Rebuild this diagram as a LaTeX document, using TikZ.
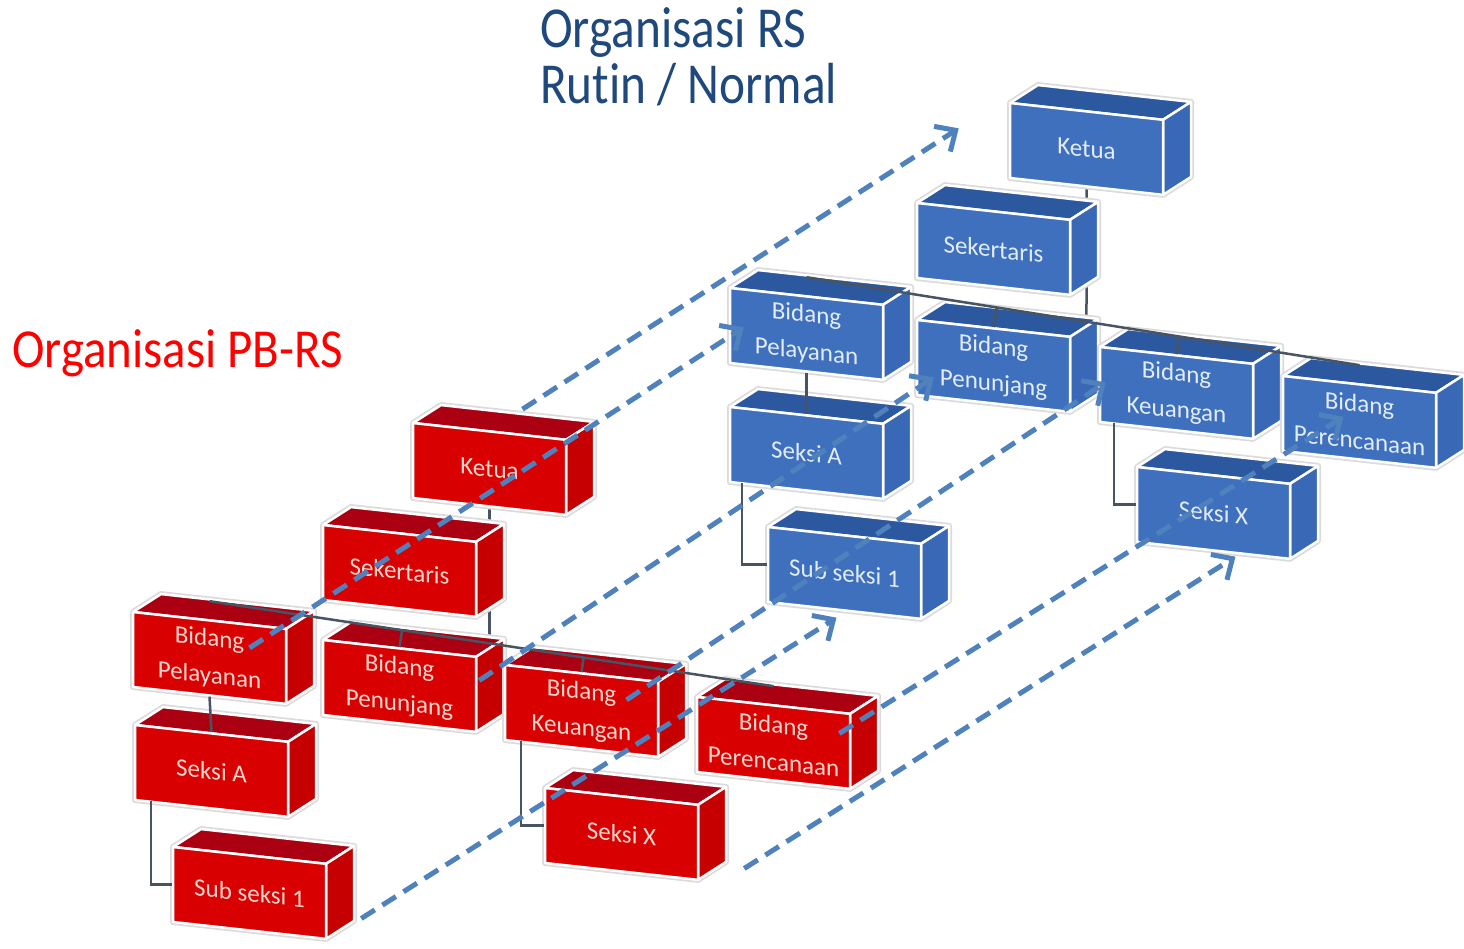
\documentclass[tikz,border=0pt]{standalone}
\usepackage{fontspec}
\setmainfont{Carlito}
\newfontfamily\titlefont{Carlito}[FakeStretch=0.85, Ligatures=NoCommon]
\newfontfamily\labelfont{Carlito}[FakeStretch=0.89, Ligatures=NoCommon]
\usepackage{xcolor}
\usetikzlibrary{arrows.meta, calc, backgrounds}

\definecolor{rsblue}{RGB}{31,73,125}
\definecolor{linkblue}{RGB}{79,129,189}
\definecolor{pbred}{RGB}{216,0,0}
\definecolor{pbredtop}{RGB}{170,0,18}
\definecolor{pbredside}{RGB}{198,0,0}
\definecolor{pbtext}{RGB}{255,214,205}
\definecolor{rsbox}{RGB}{62,112,190}
\definecolor{rsboxtop}{RGB}{44,88,160}
\definecolor{rsboxside}{RGB}{56,104,182}
\definecolor{rstext}{RGB}{226,236,250}
\definecolor{orggray}{RGB}{72,84,98}

% 3D box: style prefix, name, top-left of front face, text
\newcommand{\orgbox}[4]{%
  \begin{scope}[shift={#3}, yslant=-0.11]
    \draw[halo] (0,0) -- (0,75) -- (153,75) -- (181,54) -- (181,-21) -- (28,-21) -- cycle;
    \filldraw[#1top] (0,0) -- (153,0) -- (181,-21) -- (28,-21) -- cycle;
    \filldraw[#1side] (153,0) -- (181,-21) -- (181,54) -- (153,75) -- cycle;
    \node[#1front] (#2) at (76.5,37.5) {#4};
  \end{scope}}

\begin{document}
\begin{tikzpicture}[x=1pt, y=-1pt,
    halo/.style={draw=black!14, line width=6pt, line join=round},
    face/.style={draw=white, line width=2.5pt, line join=round},
    pbtop/.style={face, fill=pbredtop},
    pbside/.style={face, fill=pbredside},
    pbfront/.style={face, fill=pbred, text=pbtext, minimum width=153pt, minimum height=75pt,
        inner sep=0pt, transform shape, align=center, font=\fontsize{25}{37}\selectfont},
    rstop/.style={face, fill=rsboxtop},
    rsside/.style={face, fill=rsboxside},
    rsfront/.style={face, fill=rsbox, text=rstext, minimum width=153pt, minimum height=75pt,
        inner sep=0pt, transform shape, align=center, font=\fontsize{25}{37}\selectfont},
    orgline/.style={draw=orggray, line width=2.5pt},
    link/.style={draw=linkblue, line width=5pt, dash pattern=on 16pt off 9pt,
        -{Straight Barb[length=16pt, width=30pt]}}
]
    \useasboundingbox (0,0) rectangle (1464,948);

    % Organisasi PB-RS
    \orgbox{pb}{rket}{(413,423)}{Ketua}
    \orgbox{pb}{rsek}{(323,525)}{Sekertaris}
    \orgbox{pb}{rpel}{(133,612)}{Bidang\\Pelayanan}
    \orgbox{pb}{rpen}{(323,640)}{Bidang\\Penunjang}
    \orgbox{pb}{rkeu}{(505,665)}{Bidang\\Keuangan}
    \orgbox{pb}{rper}{(697,697)}{Bidang\\Perencanaan}
    \orgbox{pb}{rsa}{(135,725)}{Seksi A}
    \orgbox{pb}{rss}{(173,847)}{Sub seksi 1}
    \orgbox{pb}{rsx}{(545,788)}{Seksi X}

    % Organisasi RS rutin
    \orgbox{rs}{bket}{(1010,103)}{Ketua}
    \orgbox{rs}{bsek}{(917,203)}{Sekertaris}
    \orgbox{rs}{bpel}{(730,288)}{Bidang\\Pelayanan}
    \orgbox{rs}{bpen}{(917,320)}{Bidang\\Penunjang}
    \orgbox{rs}{bkeu}{(1100,347)}{Bidang\\Keuangan}
    \orgbox{rs}{bper}{(1283,376)}{Bidang\\Perencanaan}
    \orgbox{rs}{bsa}{(730,407)}{Seksi A}
    \orgbox{rs}{bss}{(768,527)}{Sub seksi 1}
    \orgbox{rs}{bsx}{(1137,467)}{Seksi X}

    % bagan lines
    \coordinate (rbusl) at ($(rpel.north)+(0,-18)$);
    \coordinate (rbusr) at ($(rper.north)+(0,-18)$);
    \coordinate (bbusl) at ($(bpel.north)+(0,-18)$);
    \coordinate (bbusr) at ($(bper.north)+(0,-18)$);
    \coordinate (rtrunk) at ($(rket.south)+(0,200)$);
    \coordinate (btrunk) at ($(bket.south)+(0,200)$);
    \coordinate (rketb) at (rket.south);
    \coordinate (bketb) at (bket.south);
    \begin{scope}[on background layer]
        \draw[orgline] (rketb) -- (intersection of rketb--rtrunk and rbusl--rbusr);
        \draw[orgline] (bketb) -- (intersection of bketb--btrunk and bbusl--bbusr);
    \end{scope}
    \draw[orgline] (rbusl) -- (rbusr);
    \draw[orgline] (rpen.north) -- ($(rbusl)!(rpen.north)!(rbusr)$);
    \draw[orgline] (rkeu.north) -- ($(rbusl)!(rkeu.north)!(rbusr)$);
    \draw[orgline] (rpel.south) -- (rsa.north);
    \draw[orgline] ($(rsa.south west)+(17,0)$) |- (rss.west);
    \draw[orgline] ($(rkeu.south west)+(17,0)$) |- (rsx.west);
    \draw[orgline] (bbusl) -- (bbusr);
    \draw[orgline] (bpen.north) -- ($(bbusl)!(bpen.north)!(bbusr)$);
    \draw[orgline] (bkeu.north) -- ($(bbusl)!(bkeu.north)!(bbusr)$);
    \draw[orgline] (bpel.south) -- (bsa.north);
    \draw[orgline] ($(bsa.south west)+(13,0)$) |- (bss.west);
    \draw[orgline] ($(bkeu.south west)+(15,0)$) |- (bsx.west);

    % dashed links PB-RS -> RS
    \draw[link] ($(rket.north)+(33,-21)$) -- ($(bket.west)+(-50,-12)$);
    \draw[link] ($(rpel.center)+(40,-10)$) -- ($(bpel.west)+(15,2)$);
    \draw[link] ($(rpen.east)+(2,-14)$) -- ($(bpen.west)+(18,20)$);
    \draw[link] ($(rkeu.center)+(45,-11)$) -- ($(bkeu.west)+(7,-2)$);
    \draw[link] ($(rper.east)+(-12,-18)$) -- ($(bper.center)+(-16,-5)$);
    \draw[link] ($(rss.east)+(34,17)$) -- ($(bss.south)+(-8,6)$);
    \draw[link] ($(rsx.east)+(45,26)$) -- ($(bsx.south)+(22,5)$);

    % titles
    \node[font=\titlefont\fontsize{58}{58}\selectfont, text=rsblue, anchor=base west, inner sep=0pt] (rstitle) at (540,47) {Organisasi RS};
    \node[font=\titlefont\fontsize{58}{58}\selectfont, text=rsblue, anchor=base west, inner sep=0pt] (rssub) at ($(rstitle.base west)+(0,56)$) {Rutin / Normal};
    \node[font=\labelfont\fontsize{55}{55}\selectfont, text=red, anchor=base west, inner sep=0pt] (pbtitle) at (12,367) {Organisasi PB-RS};
\end{tikzpicture}
\end{document}
